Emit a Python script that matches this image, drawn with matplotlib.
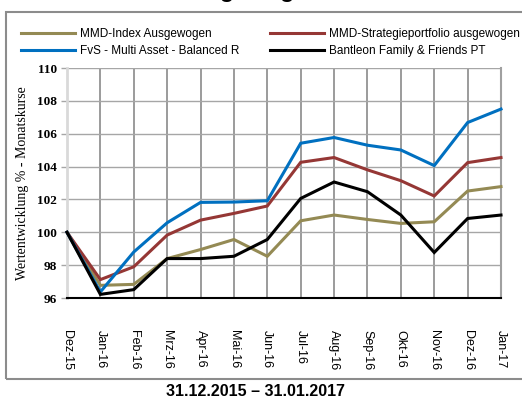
import matplotlib
matplotlib.use("Agg")
import matplotlib.pyplot as plt
import matplotlib.patches as mpatches

# ── data ──────────────────────────────────────────────────────────────────────
months = ["Dez-15", "Jan-16", "Feb-16", "Mrz-16", "Apr-16", "Mai-16", "Jun-16",
          "Jul-16", "Aug-16", "Sep-16", "Okt-16", "Nov-16", "Dez-16", "Jan-17"]

mmd_index = [100.0, 96.77, 96.83, 98.40, 98.95, 99.56, 98.54,
             100.70, 101.05, 100.78, 100.54, 100.64, 102.51, 102.78]
mmd_strategie = [100.0, 97.12, 97.90, 99.83, 100.74, 101.15, 101.60,
                 104.26, 104.55, 103.80, 103.14, 102.21, 104.24, 104.55]
fvs_balanced = [100.0, 96.37, 98.80, 100.58, 101.82, 101.84, 101.92,
                105.42, 105.77, 105.30, 105.01, 104.06, 106.68, 107.50]
bantleon = [100.0, 96.22, 96.51, 98.40, 98.40, 98.54, 99.56,
            102.06, 103.06, 102.47, 101.05, 98.77, 100.84, 101.05]

series = [
    ("MMD-Index Ausgewogen", mmd_index, "#948A54"),
    ("MMD-Strategieportfolio ausgewogen", mmd_strategie, "#953735"),
    ("FvS - Multi Asset - Balanced R", fvs_balanced, "#0070C0"),
    ("Bantleon Family & Friends PT", bantleon, "#000000"),
]

y_ticks = [96, 98, 100, 102, 104, 106, 108, 110]

# ── figure ────────────────────────────────────────────────────────────────────
fig = plt.figure(figsize=(5.22, 4.0), dpi=100)

# outer frame (right edge runs off the picture)
frame = mpatches.Rectangle((6 / 522, 1 - 379 / 400), 1.2, (379 - 12) / 400,
                           transform=fig.transFigure, fill=False,
                           edgecolor="#8c8c8c", linewidth=1.5)
fig.patches.append(frame)

# clipped title, only descenders show
fig.text(249 / 522, 1 + 3 / 400, "Ausgewogen", ha="center", va="baseline",
         fontsize=17, fontweight="bold", family="Liberation Sans")

ax = fig.add_axes([67 / 522, 1 - 298 / 400, (501 - 67) / 522, (298 - 68) / 400])

x = list(range(len(months)))
for label, vals, colour in series:
    ax.plot(x, vals, color=colour, linewidth=2.2, label=label,
            clip_on=False, zorder=3, solid_joinstyle="miter")

ax.set_xlim(0, len(months) - 1)
ax.set_ylim(96, 110)
ax.set_yticks(y_ticks)
ax.set_xticks(x)
ax.set_xticklabels(months, rotation=270, ha="center", va="top",
                   fontsize=9, family="Liberation Sans")
ax.set_yticklabels([str(t) for t in y_ticks], fontsize=9.5,
                   fontweight="bold", family="Liberation Serif")

ax.grid(axis="x", color="#8a8a8a", linewidth=1.2)
ax.grid(axis="y", color="#a6a6a6", linewidth=1.0)
ax.set_axisbelow(True)

ax.tick_params(axis="x", length=0, pad=23)
ax.tick_params(axis="y", length=4, color="#a6a6a6", width=1.0, pad=3)

ax.spines["top"].set_visible(False)
ax.spines["left"].set_color("#d9d9d9")
ax.spines["left"].set_linewidth(2)
ax.spines["right"].set_color("#a0a0a0")
ax.spines["right"].set_linewidth(1.5)
ax.spines["bottom"].set_color("black")
ax.spines["bottom"].set_linewidth(1.5)

ax.set_ylabel("Wertentwicklung % - Monatskurse", fontsize=10,
              family="Liberation Serif", labelpad=6)

# legend, two columns at top of frame
handles, labels = ax.get_legend_handles_labels()
order = [0, 2, 1, 3]
fig.legend([handles[i] for i in order], [labels[i] for i in order],
           ncol=2, loc="upper left", bbox_to_anchor=(16 / 522, 1 - 23 / 400),
           frameon=False, prop={"family": "Liberation Sans", "size": 8.5},
           handlelength=4.6, handletextpad=0.4, columnspacing=2.6,
           labelspacing=0.45, borderaxespad=0)

fig.text(255 / 522, 1 - 391 / 400, "31.12.2015 \u2013 31.01.2017", ha="center",
         va="center", fontsize=11.5, fontweight="bold", family="Liberation Sans")

fig.savefig("out.png", dpi=100)
